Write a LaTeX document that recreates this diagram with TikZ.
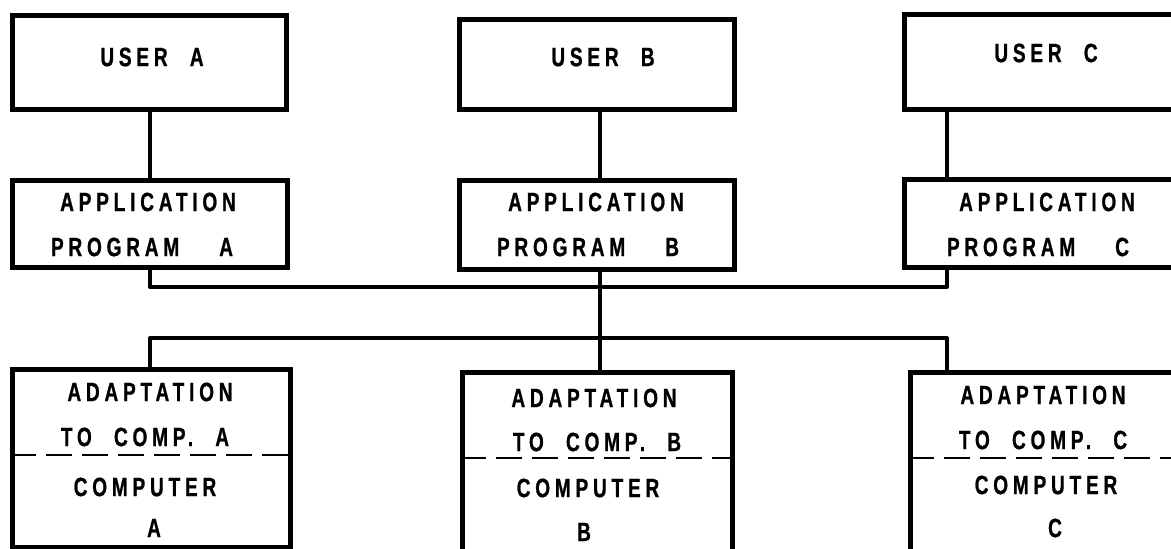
\documentclass[tikz,border=0pt]{standalone}
\usepackage{fontspec}
\setmainfont{Liberation Sans}[BoldFont={Liberation Sans Bold}]
\newfontfamily\lettering{Liberation Sans Bold}[FakeStretch=0.72,LetterSpace=18,WordSpace=2.2,FakeBold=0.8]
\begin{document}
\begin{tikzpicture}[x=1pt,y=-1pt,
  box/.style={draw=black,line width=5pt,anchor=north west,inner sep=0pt,rectangle},
  wire/.style={draw=black,line width=4pt,line cap=round,line join=round},
  sep/.style={draw=black,line width=2.8pt,dash pattern=on 26pt off 10pt},
  lbl/.style={inner sep=0pt,font=\lettering\fontsize{26.5}{26.5}\selectfont,text=black}]
\useasboundingbox (0,0) rectangle (1171,549);
\clip (0,0) rectangle (1171,549);
% top row: users
\node[box,minimum width=274,minimum height=94] (ua) at (10,13) {};
\node[box,minimum width=275,minimum height=90] (ub) at (457,17) {};
\node[box,minimum width=300,minimum height=95] (uc) at (902,12) {};
% application programs
\node[box,minimum width=275,minimum height=87] (pa) at (10,178) {};
\node[box,minimum width=275,minimum height=89] (pb) at (457,178) {};
\node[box,minimum width=300,minimum height=88] (pc) at (902,177) {};
% adaptation / computer
\node[box,minimum width=278,minimum height=178] (aa) at (10,367) {};
\node[box,minimum width=270,minimum height=200] (ab) at (460,370) {};
\node[box,minimum width=300,minimum height=200] (ac) at (908,370) {};
% texts
\node[lbl] (tua) at (152,57) {USER A};
\node[lbl] (tub) at (603,57) {USER B};
\node[lbl] (tuc) at (1046,53) {USER C};
\node[lbl] (tpa1) at (148,202) {APPLICATION};
\node[lbl] (tpa2) at (142,247) {PROGRAM\hspace{40pt}A};
\node[lbl] (tpb1) at (596,202) {APPLICATION};
\node[lbl] (tpb2) at (588,247) {PROGRAM\hspace{40pt}B};
\node[lbl] (tpc1) at (1047,202) {APPLICATION};
\node[lbl] (tpc2) at (1038,247) {PROGRAM\hspace{40pt}C};
\node[lbl] (taa1) at (150,392) {ADAPTATION};
\node[lbl] (taa2) at (145,437) {TO COMP. A};
\node[lbl] (taa3) at (145,487) {COMPUTER};
\node[lbl] (taa4) at (154,528) {A};
\node[lbl] (tab1) at (594,398) {ADAPTATION};
\node[lbl] (tab2) at (597,442) {TO COMP. B};
\node[lbl] (tab3) at (588,488) {COMPUTER};
\node[lbl] (tab4) at (584,532) {B};
\node[lbl] (tac1) at (1043,395) {ADAPTATION};
\node[lbl] (tac2) at (1043,440) {TO COMP. C};
\node[lbl] (tac3) at (1046,485) {COMPUTER};
\node[lbl] (tac4) at (1055,528) {C};
% dashed separators
\draw[sep] (aa.west |- 0,455) -- (aa.east |- 0,455);
\draw[sep] (ab.west |- 0,458) -- (ab.east |- 0,458);
\draw[sep] (ac.west |- 0,458) -- (ac.east |- 0,458);
% bus coordinates
\coordinate (xa) at (150,0);
\coordinate (xb) at (600,0);
\coordinate (xc) at (947,0);
\coordinate (ba) at (150,287);
\coordinate (bc) at (947,287);
\coordinate (la) at (150,338);
\coordinate (lc) at (947,338);
% connectors
\draw[wire] (ua.south -| xa) -- (pa.north -| xa);
\draw[wire] (ub.south -| xb) -- (pb.north -| xb);
\draw[wire] (uc.south -| xc) -- (pc.north -| xc);
\draw[wire] (pa.south -| xa) -- (ba) -- (bc) -- (pc.south -| xc);
\draw[wire] (pb.south -| xb) -- (ab.north -| xb);
\draw[wire] (aa.north -| xa) -- (la) -- (lc) -- (ac.north -| xc);
\end{tikzpicture}
\end{document}
